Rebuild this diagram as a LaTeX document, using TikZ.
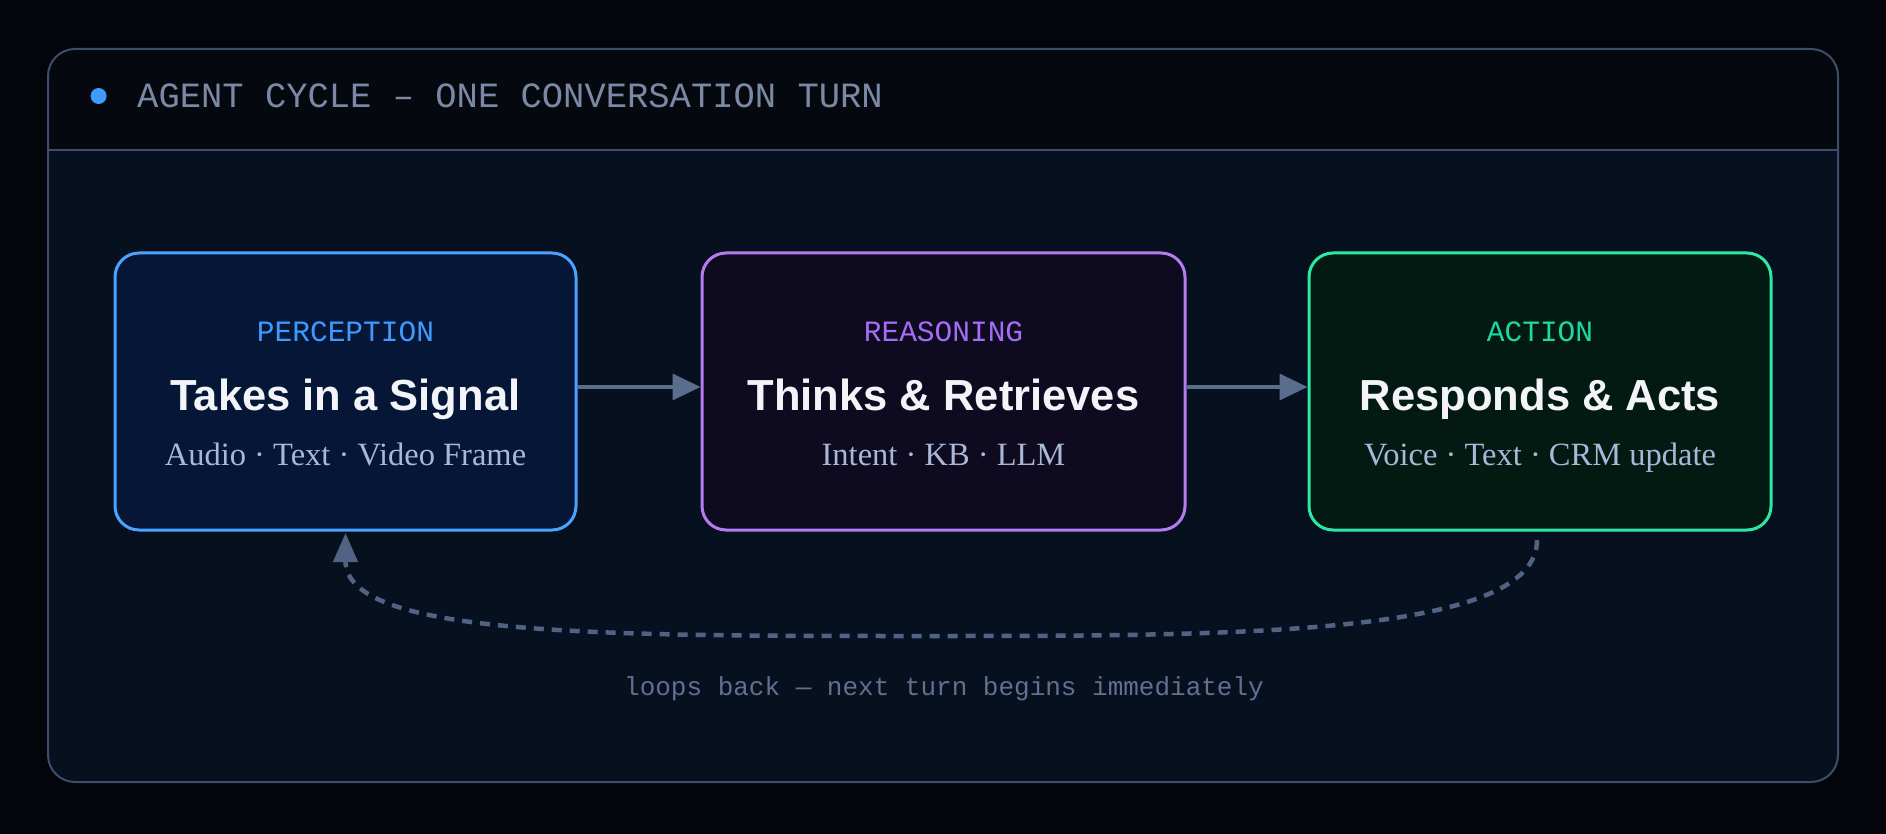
\documentclass[tikz,border=0pt]{standalone}
\usepackage{fontspec}
\setmainfont{Liberation Serif}
\newfontfamily\monof{Liberation Mono}
\newfontfamily\sansf{Liberation Sans}
\usetikzlibrary{arrows.meta}
\definecolor{bgC}{HTML}{03050A}
\definecolor{headFill}{HTML}{05080F}
\definecolor{bodyFill}{HTML}{07101E}
\definecolor{panelLine}{HTML}{3D4D6B}
\definecolor{headText}{HTML}{7C89A5}
\definecolor{dotC}{HTML}{3D9BFF}
\definecolor{percLine}{HTML}{4AA3FF}
\definecolor{percFill}{HTML}{051637}
\definecolor{percText}{HTML}{3D9BFF}
\definecolor{reasLine}{HTML}{B57CF0}
\definecolor{reasFill}{HTML}{0E0A20}
\definecolor{reasText}{HTML}{A56CF5}
\definecolor{actLine}{HTML}{2EE6A6}
\definecolor{actFill}{HTML}{031A13}
\definecolor{actText}{HTML}{1FD8A0}
\definecolor{titleC}{HTML}{F2F4F8}
\definecolor{subC}{HTML}{A8B8D8}
\definecolor{arrC}{HTML}{5B6D8C}
\definecolor{dashC}{HTML}{506383}
\definecolor{footC}{HTML}{617090}
\begin{document}
\begin{tikzpicture}[x=1pt,y=-1pt,
  stagebox/.style={draw, line width=3pt, rounded corners=24pt, minimum height=277pt, inner sep=0pt},
  lab/.style={font=\monof\fontsize{29.5}{32}\selectfont, anchor=base},
  ttl/.style={font=\sansf\bfseries\fontsize{43.5}{48}\selectfont, text=titleC, anchor=base},
  sub/.style={font=\fontsize{32.5}{36}\selectfont, text=subC, anchor=base},
  flow/.style={draw=arrC, line width=3.5pt, -{Triangle[length=28pt,width=26pt]}},
  back/.style={draw=dashC, line width=4.5pt, dash pattern=on 10pt off 8pt, -{Triangle[length=29pt,width=24pt]}}
]
\useasboundingbox (0,0) rectangle (1886,834);
\fill[bgC] (0,0) rectangle (1886,834);

% panel
\fill[bodyFill, rounded corners=27pt] (48,49) rectangle (1838,782);
\begin{scope}
  \clip[rounded corners=27pt] (48,49) rectangle (1838,782);
  \fill[headFill] (48,49) rectangle (1838,150);
\end{scope}
\draw[panelLine, line width=2pt] (48,150) -- (1838,150);
\draw[panelLine, line width=2pt, rounded corners=27pt] (48,49) rectangle (1838,782);

% header
\fill[dotC] (98.6,96) circle (8pt);
\node[anchor=base west, inner sep=0pt, font=\monof\fontsize{35.5}{40}\selectfont, text=headText] (hdr) at (137,107.5) {AGENT CYCLE – ONE CONVERSATION TURN};

% boxes
\node[stagebox, draw=percLine, fill=percFill, minimum width=461pt] (b1) at (345.5,391.5) {};
\node[stagebox, draw=reasLine, fill=reasFill, minimum width=483pt] (b2) at (943.5,391.5) {};
\node[stagebox, draw=actLine, fill=actFill, minimum width=462pt] (b3) at (1540,391.5) {};

\node[lab, text=percText] (l1) at (345.5,341.5) {PERCEPTION};
\node[ttl] (t1) at (345.5,410) {Takes in a Signal};
\node[sub] (s1) at (345.5,465) {Audio · Text · Video Frame};

\node[lab, text=reasText] (l2) at (943.5,341.5) {REASONING};
\node[ttl] (t2) at (943.5,410) {Thinks \& Retrieves};
\node[sub] (s2) at (943.5,465) {Intent · KB · LLM};

\node[lab, text=actText] (l3) at (1540,341.5) {ACTION};
\node[ttl] (t3) at (1540,410) {Responds \& Acts};
\node[sub] (s3) at (1540,465) {Voice · Text · CRM update};

% flow arrows
\draw[flow] ([yshift=4.5pt]b1.east) -- ([yshift=4.5pt]b2.west);
\draw[flow] ([yshift=4.5pt]b2.east) -- ([yshift=4.5pt]b3.west);

% loop back
\coordinate (ls) at (1537,540);
\coordinate (lb) at (920,636);
\coordinate (le) at (345.5,533);
\draw[back] (ls) .. controls (1537,636) and (1237,636) .. (lb)
  .. controls (600,636) and (345.5,636) .. (le);

\node[anchor=base, inner sep=0pt, font=\monof\fontsize{26}{30}\selectfont, text=footC] (foot) at (944,695) {loops back — next turn begins immediately};
\end{tikzpicture}
\end{document}
